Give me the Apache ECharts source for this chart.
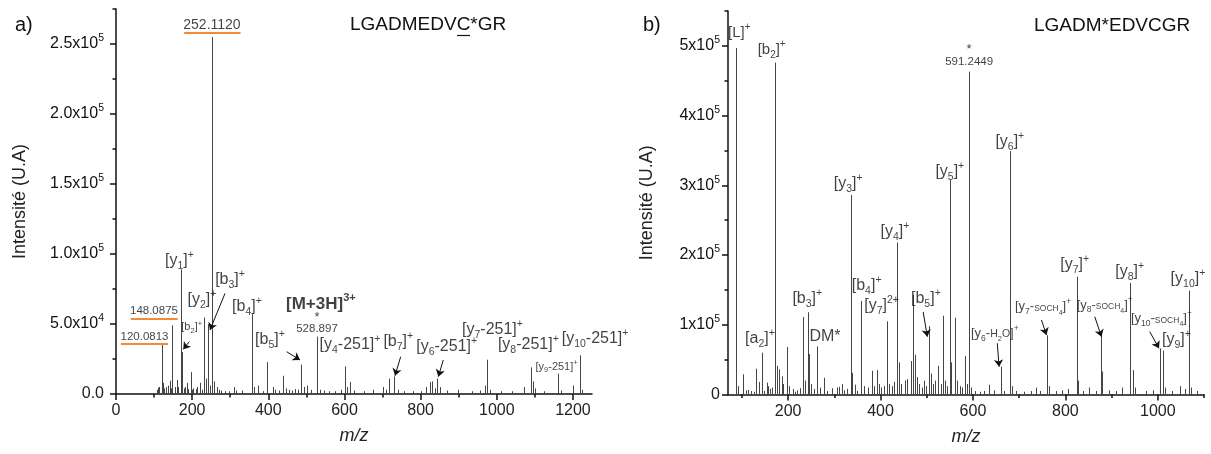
<!DOCTYPE html>
<html>
<head>
<meta charset="utf-8">
<script src="https://cdn.jsdelivr.net/npm/echarts@6/dist/echarts.min.js"></script>
<style>
html, body { margin: 0; padding: 0; background: #fff; }
#chart { width: 1211px; height: 454px; }
</style>
</head>
<body>
<div id="chart"></div>
<script>
var FONT = 'Liberation Sans, Arial, sans-serif';
var INK = '#111';

// a) LGADMEDVC*GR  -- m/z and intensity of each stick
var mzA = [107, 111, 114, 120.08, 122.5, 126, 130, 135.5, 141.7, 145, 148.09, 154, 159, 163,
    170.6, 174.5, 178, 181, 185.5, 190, 196, 200, 203, 210, 213.5, 220, 226, 232.1, 236, 242.1,
    247, 252.11, 257, 264, 270, 276, 285, 298, 310.5, 316, 330, 356, 362, 374, 385, 397, 411,
    418, 428, 438, 447, 455, 463, 470, 478, 485.6, 493, 502, 512, 528.9, 535, 545, 560, 575,
    590, 601, 606, 614, 625, 650, 675, 702, 710, 717, 730, 740, 755, 780, 800, 815, 824, 831,
    838, 844, 850, 870, 898, 935, 955, 968.5, 975, 982, 1010, 1040, 1072, 1089, 1094, 1100,
    1125, 1161, 1168, 1200, 1218, 1224];
var intA = [3000, 4600, 5000, 35000, 8000, 4000, 5000, 6000, 9500, 4000, 49000, 5000, 10000, 5000,
    89000, 30000, 4000, 5000, 8000, 3500, 15600, 3000, 4000, 3500, 5000, 8000, 3000, 54600, 11000, 49800,
    6000, 255000, 9000, 5000, 3000, 2500, 2000, 2000, 5000, 2500, 2500, 57000, 5000, 6000, 2000, 22800, 5000,
    3000, 2500, 13000, 4000, 3000, 2500, 3500, 3000, 21000, 5000, 6000, 3000, 41000, 3000, 2500, 2000, 2000,
    3000, 19700, 5000, 8500, 2500, 2000, 3000, 5000, 3000, 11000, 12500, 3000, 2000, 2000, 2000, 5000, 8500, 9000,
    4000, 11000, 5000, 2500, 3000, 2000, 2500, 6000, 24500, 3000, 2000, 2000, 5000, 19000, 9000, 4000,
    2000, 14500, 2500, 6000, 27600, 3000];

// b) LGADM*EDVCGR
var mzB = [87.4, 91, 101.8, 110, 114, 120, 126, 130, 137.7, 143.6, 148, 153.7, 157, 160, 165,
    171.7, 175.3, 180.3, 186.2, 190, 198.3, 202, 210, 215, 220, 226, 232.9, 236, 242.4, 245.2,
    250, 256, 263.1, 270, 278.3, 285, 295, 305, 310, 316, 322, 328, 335.4, 338.2, 344, 350,
    358.3, 364, 372, 381.4, 386, 391.5, 396, 402, 408, 413.8, 418, 424, 430, 434.8, 439.1, 445,
    452, 458, 465, 470.8, 473.7, 478, 484, 490, 495, 499, 504.6, 509, 514, 519, 524.8, 530,
    535.6, 540, 544, 550, 553, 560.9, 566, 572, 577, 582.5, 587, 591.8, 596, 605, 615, 625,
    634.4, 645, 660.3, 668, 679.8, 684.8, 693, 710, 725, 737.5, 745, 761.3, 765, 780, 793, 805,
    824.6, 828, 838, 852, 866, 876.6, 880, 895, 910, 923.5, 940.8, 946.4, 950, 975, 990,
    1004.1, 1011.2, 1015, 1030, 1047.4, 1058, 1067.5, 1071, 1085];
var intB = [497000, 12000, 29000, 6000, 6500, 5000, 4000, 37000, 18000, 60000, 5000, 17000, 12000, 8000, 10000,
    476000, 41000, 36000, 26000, 15000, 68000, 12000, 8000, 4000, 6000, 9000, 111000, 20000, 118000, 58000,
    15000, 8000, 69000, 10000, 24000, 5000, 9000, 10000, 11000, 15000, 6000, 8000, 286000, 31000, 14000, 5000,
    134000, 12000, 10000, 34000, 12000, 35000, 15000, 10000, 12000, 105000, 15000, 12000, 18000, 218000, 46000, 15000,
    20000, 22000, 48000, 143000, 57000, 25000, 15000, 10000, 20000, 12000, 98000, 30000, 15000, 20000, 41000, 15000,
    113000, 20000, 12000, 308000, 46000, 110000, 20000, 12000, 10000, 55000, 15000, 463000, 10000, 5000, 4000, 5000,
    14000, 6000, 40000, 5000, 349000, 12000, 5000, 4000, 5000, 10000, 5000, 85000, 12000, 5000, 6000, 8000,
    169000, 20000, 5000, 10000, 5000, 84000, 33000, 6000, 5000, 10000, 160000, 35000, 10000, 5000, 6000,
    66000, 63000, 10000, 5000, 12000, 8000, 149000, 10000, 5000];

// axis ticks
var xMajorA = [0, 200, 400, 600, 800, 1000, 1200];
var xMinorA = [100, 300, 500, 700, 900, 1100];
var yMajorA = [0, 50000, 100000, 150000, 200000, 250000];
var yMinorA = [25000, 75000, 125000, 175000, 225000, 275000];
var xMajorB = [200, 400, 600, 800, 1000];
var xMinorB = [100, 300, 500, 700, 900, 1100];
var yMajorB = [0, 100000, 200000, 300000, 400000, 500000];
var yMinorB = [50000, 150000, 250000, 350000, 450000, 550000];

// peak annotations [m/z, intensity, text]
var labelsA = [
    [252, 263600, '{num14|252.1120}'],
    [166.7, 95000, '{n|[y}{b|1}{n|]}{p|+}'],
    [99.7, 59300, '{num|148.0875}'],
    [74.8, 40700, '{num|120.0813}'],
    [198.8, 47900, '{s|[b}{sb|2}{s|]}{sp|+}'],
    [225.8, 67100, '{n|[y}{b|2}{n|]}{p|+}'],
    [299.4, 81400, '{n|[b}{b|3}{n|]}{p|+}'],
    [344, 62100, '{n|[b}{b|4}{n|]}{p|+}'],
    [538, 64300, '{M|[M+3H]}{Mp|3+}'],
    [527.8, 54800, '{star|*}'],
    [527.8, 46200, '{num|528.897}'],
    [404.4, 38600, '{n|[b}{b|5}{n|]}{p|+}'],
    [614.5, 35000, '{n|[y}{b|4}{n|-251]}{p|+}'],
    [741.3, 37400, '{n|[b}{b|7}{n|]}{p|+}'],
    [868.4, 33800, '{n|[y}{b|6}{n|-251]}{p|+}'],
    [988.7, 45700, '{n|[y}{b|7}{n|-251]}{p|+}'],
    [1082.8, 35000, '{n|[y}{b|8}{n|-251]}{p|+}'],
    [1157, 19500, '{s|[y}{sb|9}{s|-251]}{sp|+}'],
    [1258, 39800, '{n|[y}{b|10}{n|-251]}{p|+}']
];
var labelsB = [
    [94.5, 518200, '{m|[L]}{mp|+}'],
    [164.5, 494300, '{m|[b}{mb|2}{m|]}{mp|+}'],
    [330.2, 303000, '{n|[y}{b|3}{n|]}{p|+}'],
    [431.1, 233600, '{n|[y}{b|4}{n|]}{p|+}'],
    [370, 155700, '{n|[b}{b|4}{n|]}{p|+}'],
    [241.5, 138000, '{n|[b}{b|3}{n|]}{p|+}'],
    [402.4, 127000, '{n|[y}{b|7}{n|]}{p|2+}'],
    [498.2, 138000, '{n|[b}{b|5}{n|]}{p|+}'],
    [139.2, 80600, '{n|[a}{b|2}{n|]}{p|+}'],
    [279.8, 82900, '{n|DM*}'],
    [550, 319700, '{n|[y}{b|5}{n|]}{p|+}'],
    [591.8, 494300, '{star|*}'],
    [591.8, 477500, '{num|591.2449}'],
    [679.8, 362700, '{n|[y}{b|6}{n|]}{p|+}'],
    [647.4, 87800, '{r|[y}{rb|6}{r|-}{h|H}{hb|2}{h|O}{r|]}{rp|+}'],
    [751.8, 126000, '{r|[y}{rb|7}{r|-}{sc|SOCH}{scb|4}{r|]}{rp|+}'],
    [820.3, 185800, '{n|[y}{b|7}{n|]}{p|+}'],
    [885.2, 128400, '{r|[y}{rb|8}{r|-}{sc|SOCH}{scb|4}{r|]}{rp|+}'],
    [939.2, 176200, '{n|[y}{b|8}{n|]}{p|+}'],
    [1007.8, 109300, '{r|[y}{rb|10}{r|-}{sc|SOCH}{scb|4}{r|]}{rp|+}'],
    [1040.2, 78200, '{n|[y}{b|9}{n|]}{p|+}'],
    [1065.3, 166700, '{n|[y}{b|10}{n|]}{p|+}']
];
// arrows [from m/z, from int, to m/z, to int]
var arrowsA = [
    [192.4, 37400, 176.7, 31900],
    [286.3, 71900, 246.8, 45700],
    [448.3, 30200, 483.2, 24300],
    [747.6, 26600, 732.7, 13100],
    [859.5, 24300, 846.4, 12400]
];
var arrowsB = [
    [492.3, 118400, 501.4, 82900],
    [652.7, 73500, 656.6, 39900],
    [748.3, 106900, 759.1, 85400],
    [863.6, 111600, 878.1, 82900],
    [982.5, 90100, 1002.6, 66300]
];
// orange underlines [m/z start, m/z end, int]
var underlinesA = [
    [179, 327, 258000],
    [38.6, 162, 53400],
    [13, 136.5, 36200]
];

function st(o) { o.fontFamily = FONT; o.color = INK; return o; }
var RICH = {
    n: st({fontSize: 16, lineHeight: 22}),
    b: st({fontSize: 10.5, verticalAlign: 'bottom'}),
    p: st({fontSize: 10.5, verticalAlign: 'top'}),
    m: st({fontSize: 15, lineHeight: 21}),
    mb: st({fontSize: 10, verticalAlign: 'bottom'}),
    mp: st({fontSize: 10, verticalAlign: 'top'}),
    s: st({fontSize: 11, lineHeight: 15}),
    sb: st({fontSize: 7.5, verticalAlign: 'bottom'}),
    sp: st({fontSize: 7.5, verticalAlign: 'top'}),
    r: st({fontSize: 13, lineHeight: 19}),
    rb: st({fontSize: 8.5, verticalAlign: 'bottom'}),
    rp: st({fontSize: 8.5, verticalAlign: 'top'}),
    h: st({fontSize: 10.5, verticalAlign: 'bottom', padding: [0, 0, 3, 0]}),
    hb: st({fontSize: 7.5, verticalAlign: 'bottom'}),
    sc: st({fontSize: 8.5, verticalAlign: 'bottom', padding: [0, 0, 3, 0]}),
    scb: st({fontSize: 7, verticalAlign: 'bottom'}),
    num: st({fontSize: 11.5}),
    num14: st({fontSize: 14}),
    star: st({fontSize: 13}),
    M: st({fontSize: 17, fontWeight: 'bold', lineHeight: 24}),
    Mp: st({fontSize: 11, fontWeight: 'bold', verticalAlign: 'top'})
};

var TICKRICH = {
    t: st({fontSize: 16, lineHeight: 22}),
    e: st({fontSize: 10.5, verticalAlign: 'top'})
};
function fmtA(v) {
    if (v === 0) return '0.0';
    var e = Math.floor(Math.log10(v) + 1e-9);
    return '{t|' + (v / Math.pow(10, e)).toFixed(1) + 'x10}{e|' + e + '}';
}
function fmtB(v) {
    if (v === 0) return '0';
    return '{t|' + (v / 1e5) + 'x10}{e|5}';
}

function stickItem(params, api) {
    var p = api.coord([api.value(0), api.value(1)]);
    var b = api.coord([api.value(0), 0]);
    var x = Math.round(p[0]) + 0.5;
    return {type: 'line', shape: {x1: x, y1: p[1], x2: x, y2: b[1]},
        style: {stroke: '#454545', lineWidth: 1}};
}

var axLine = {show: true, onZero: false, lineStyle: {color: INK, width: 1.5}};
var tickStyle = {color: INK, width: 1.5};

function xAxes(grid, min, max, major, minor) {
    return [{
        type: 'value', gridIndex: grid, min: min, max: max, position: 'bottom',
        axisLine: axLine,
        axisTick: {show: true, customValues: major, length: 6, lineStyle: tickStyle},
        axisLabel: {customValues: major, fontSize: 16, color: '#222', margin: 9, fontFamily: FONT,
            formatter: function (v) { return String(v); }},
        splitLine: {show: false},
        name: 'm/z', nameLocation: 'middle', nameGap: 33,
        nameTextStyle: {fontSize: 18, fontStyle: 'italic', color: '#222', fontFamily: FONT}
    }, {
        type: 'value', gridIndex: grid, min: min, max: max, position: 'bottom',
        axisLine: {show: false, onZero: false},
        axisTick: {show: true, customValues: minor, length: 3.5, lineStyle: tickStyle},
        axisLabel: {show: false}, splitLine: {show: false}
    }];
}
function yAxes(grid, max, major, minor, fmt, margin, gap) {
    return [{
        type: 'value', gridIndex: grid, min: 0, max: max, position: 'left',
        axisLine: axLine,
        axisTick: {show: true, customValues: major, length: 6, lineStyle: tickStyle},
        axisLabel: {customValues: major, formatter: fmt, rich: TICKRICH, fontSize: 16,
            color: '#222', margin: margin, fontFamily: FONT},
        splitLine: {show: false},
        name: 'Intensité (U.A)', nameLocation: 'middle', nameGap: gap,
        nameTextStyle: {fontSize: 18, color: '#222', fontFamily: FONT}
    }, {
        type: 'value', gridIndex: grid, min: 0, max: max, position: 'left',
        axisLine: {show: false, onZero: false},
        axisTick: {show: true, customValues: minor, length: 3.5, lineStyle: tickStyle},
        axisLabel: {show: false}, splitLine: {show: false}
    }];
}

function zip(a, b) { return a.map(function (v, i) { return [v, b[i]]; }); }

function stickSeries(xi, mz, it) {
    return {type: 'custom', xAxisIndex: xi, yAxisIndex: xi, renderItem: stickItem,
        encode: {x: 0, y: 1}, data: zip(mz, it), silent: true, z: 2};
}
function labelSeries(xi, rows) {
    return {type: 'scatter', xAxisIndex: xi, yAxisIndex: xi, symbolSize: 1, clip: false,
        itemStyle: {color: 'transparent'}, silent: true, z: 10,
        label: {show: true, position: 'inside', rich: RICH, color: INK, fontFamily: FONT,
            formatter: function (p) { return p.name; }},
        data: rows.map(function (r) { return {name: r[2], value: [r[0], r[1]]}; })};
}
function arrowSeries(xi, rows) {
    return {type: 'lines', coordinateSystem: 'cartesian2d', xAxisIndex: xi, yAxisIndex: xi,
        symbol: ['none', 'arrow'], symbolSize: 7, silent: true, z: 9,
        lineStyle: {color: INK, width: 1, opacity: 1},
        data: rows.map(function (r) { return {coords: [[r[0], r[1]], [r[2], r[3]]]}; })};
}

var myChart = echarts.init(document.getElementById('chart'));
myChart.setOption({
    animation: false,
    textStyle: {fontFamily: FONT},
    grid: [
        {left: 116, top: 9, width: 476, height: 385},
        {left: 728, top: 11, width: 476, height: 383.5}
    ],
    xAxis: xAxes(0, 0, 1250, xMajorA, xMinorA).concat(xAxes(1, 70, 1100, xMajorB, xMinorB)),
    yAxis: yAxes(0, 275000, yMajorA, yMinorA, fmtA, 12, 87).concat(
        yAxes(1, 550000, yMajorB, yMinorB, fmtB, 8, 72)),
    graphic: [
        {type: 'text', x: 15, y: 25, style: {text: 'a)', fontSize: 20, fill: INK, fontFamily: FONT, verticalAlign: 'middle'}},
        {type: 'text', x: 643, y: 25, style: {text: 'b)', fontSize: 20, fill: INK, fontFamily: FONT, verticalAlign: 'middle'}},
        {type: 'text', x: 350, y: 25, style: {text: 'LGADMEDVC*GR', fontSize: 19, fill: INK, fontFamily: FONT, verticalAlign: 'middle'}},
        {type: 'line', shape: {x1: 457, y1: 35.5, x2: 470, y2: 35.5}, style: {stroke: INK, lineWidth: 1.2}},
        {type: 'text', x: 1034, y: 26, style: {text: 'LGADM*EDVCGR', fontSize: 19, fill: INK, fontFamily: FONT, verticalAlign: 'middle'}}
    ],
    series: [
        stickSeries(0, mzA, intA),
        stickSeries(2, mzB, intB),
        {type: 'lines', coordinateSystem: 'cartesian2d', xAxisIndex: 0, yAxisIndex: 0,
            symbol: 'none', silent: true, z: 9,
            lineStyle: {color: '#f08a3c', width: 2, opacity: 1},
            data: underlinesA.map(function (r) { return {coords: [[r[0], r[2]], [r[1], r[2]]]}; })},
        arrowSeries(0, arrowsA),
        arrowSeries(2, arrowsB),
        labelSeries(0, labelsA),
        labelSeries(2, labelsB)
    ]
});
</script>
</body>
</html>
